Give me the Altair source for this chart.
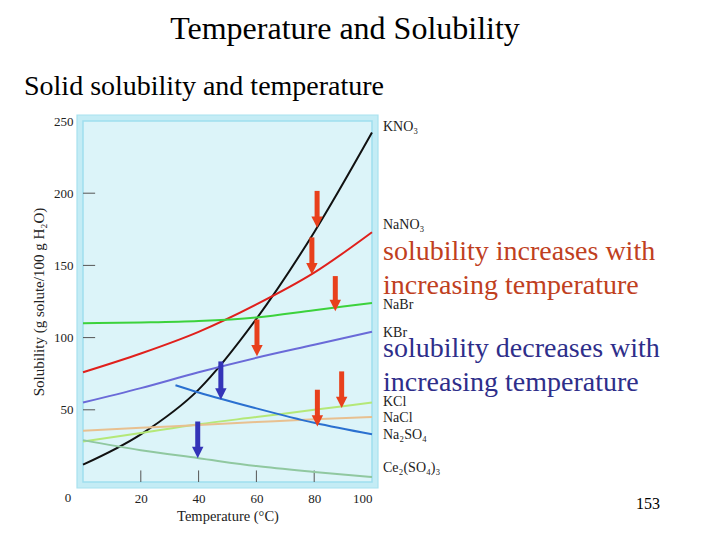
import altair as alt
import pandas as pd

# ---- data ----
temps = [0, 20, 40, 60, 80, 100]
kno3 = [12, 33, 64, 113, 173, 242]
nano3 = [76, 89, 104, 123, 145, 173]
nabr = [110, 110.5, 111.5, 114, 119, 124]
kbr = [55, 65, 76, 86, 95, 104]
kcl = [28, 34, 40, 45, 50, 55]
nacl = [35.5, 37.5, 39.5, 41.5, 43.5, 45]
ce2so43 = [29, 22, 16.5, 11, 7, 3.5]
na2so4_temps = [32, 40, 60, 80, 100]
na2so4 = [67, 62, 51, 41, 33]

names = ["KNO₃", "NaNO₃", "NaBr", "KBr", "KCl", "NaCl", "Na₂SO₄", "Ce₂(SO₄)₃"]
label_y = [246, 178, 122.5, 103, 55.5, 44.5, 32.5, 10]
colors = ["#111111", "#e0201c", "#3cd23c", "#6a6ad8", "#b4e878", "#e8c090", "#2a70d0", "#90c8a0"]

arrow_x = [81, 79.2, 87.3, 60.2, 89.5, 81.1, 47.7, 39.7]
arrow_top = [201.6, 169.4, 142.6, 112.5, 76.6, 63.9, 83.5, 41.9]
arrow_tip = [176, 143.7, 118.3, 87, 51.2, 38.4, 57, 16.5]
arrow_kind = ["up", "up", "up", "up", "up", "up", "down", "down"]

x_ticks = [20, 40, 60, 80]
y_ticks = [50, 100, 150, 200]

# ---- tables ----
series = {
    "KNO₃": (temps, kno3), "NaNO₃": (temps, nano3), "NaBr": (temps, nabr),
    "KBr": (temps, kbr), "KCl": (temps, kcl), "NaCl": (temps, nacl),
    "Na₂SO₄": (na2so4_temps, na2so4), "Ce₂(SO₄)₃": (temps, ce2so43),
}
rows = []
for name, (xs_, ys_) in series.items():
    for xv, yv in zip(xs_, ys_):
        rows.append({"name": name, "t": xv, "s": yv})
lines_df = pd.DataFrame(rows)
labels_df = pd.DataFrame({"name": names, "t": [100] * len(names), "s": label_y})
arrows_df = pd.DataFrame({"t": arrow_x, "top": arrow_top, "tip": arrow_tip, "kind": arrow_kind})
xt_df = pd.DataFrame({"t": x_ticks, "s0": [0] * len(x_ticks), "s1": [8] * len(x_ticks)})
yt_df = pd.DataFrame({"s": y_ticks, "t0": [0] * len(y_ticks), "t1": [4.2] * len(y_ticks)})

W, H = 289, 361
FONT = "Liberation Serif"

xs = alt.Scale(domain=[0, 100], nice=False, zero=False)
ys = alt.Scale(domain=[0, 250], nice=False, zero=False)
cscale = alt.Scale(domain=names, range=colors)

one = pd.DataFrame({"a": [0]})
frame_outer = alt.Chart(one).mark_rect(
    fill=None, stroke="#c4ecf5", strokeWidth=6
).encode(x=alt.value(-3), x2=alt.value(W + 3), y=alt.value(-3), y2=alt.value(H + 3))
frame_edge = alt.Chart(one).mark_rect(
    fill=None, stroke="#a8e2ef", strokeWidth=1.2
).encode(x=alt.value(-6), x2=alt.value(W + 6), y=alt.value(-6), y2=alt.value(H + 6))
frame_inner = alt.Chart(one).mark_rect(
    fill=None, stroke="#9fdeee", strokeWidth=1.5
).encode(x=alt.value(0), x2=alt.value(W), y=alt.value(0), y2=alt.value(H))

xticks = alt.Chart(xt_df).mark_rule(color="#555555", strokeWidth=1).encode(
    x=alt.X("t:Q", scale=xs), y=alt.Y("s0:Q", scale=ys), y2="s1:Q"
)
yticks = alt.Chart(yt_df).mark_rule(color="#555555", strokeWidth=1).encode(
    y=alt.Y("s:Q", scale=ys), x=alt.X("t0:Q", scale=xs), x2="t1:Q"
)

lines = alt.Chart(lines_df).mark_line(strokeWidth=2, interpolate="monotone", clip=False).encode(
    x=alt.X("t:Q", scale=xs,
            axis=alt.Axis(values=[20, 40, 60, 80, 100], title="Temperature (°C)", domain=False,
                          ticks=False, grid=False, labelPadding=10, titlePadding=4,
                          titleFontSize=14.5)),
    y=alt.Y("s:Q", scale=ys,
            axis=alt.Axis(values=[50, 100, 150, 200, 250], title="Solubility (g solute/100 g H₂O)",
                          domain=False, ticks=False, grid=False, labelPadding=10, titlePadding=7,
                          titleFontSize=15)),
    color=alt.Color("name:N", scale=cscale, legend=None),
    detail="name:N",
)

curve_labels = alt.Chart(labels_df).mark_text(
    align="left", baseline="middle", dx=11, font=FONT, fontSize=14, color="#222222"
).encode(x=alt.X("t:Q", scale=xs), y=alt.Y("s:Q", scale=ys), text="name:N")

zero_label = alt.Chart(pd.DataFrame({"t": [0], "s": [0], "lab": ["0"]})).mark_text(
    font=FONT, fontSize=13, color="#222222", dx=-15, dy=16
).encode(x=alt.X("t:Q", scale=xs), y=alt.Y("s:Q", scale=ys), text="lab:N")


def arrows(kind, color):
    base = alt.Chart(arrows_df).transform_filter(alt.datum.kind == kind)
    shaft = base.mark_rule(strokeWidth=5, strokeCap="butt", y2Offset=-6, color=color).encode(
        x=alt.X("t:Q", scale=xs), y=alt.Y("top:Q", scale=ys), y2="tip:Q"
    )
    head = base.mark_point(
        shape="M-1,-1L1,-1L0,1Z", size=130, filled=True, opacity=1, yOffset=-5.7,
        color=color, strokeWidth=0
    ).encode(x=alt.X("t:Q", scale=xs), y=alt.Y("tip:Q", scale=ys))
    return [shaft, head]


def slide_text(txt, x, y, size, color="#000000", align="left"):
    return alt.Chart(pd.DataFrame({"txt": [txt]})).mark_text(
        font=FONT, fontSize=size, color=color, align=align, baseline="middle"
    ).encode(x=alt.value(x), y=alt.value(y), text="txt:N")


texts = [
    slide_text("Temperature and Solubility", 262, -92, 32, align="center"),
    slide_text("Solid solubility and temperature", -59, -34, 28),
    slide_text("solubility increases with", 300, 131, 28, color="#c0401e"),
    slide_text("increasing temperature", 300, 165, 28, color="#c0401e"),
    slide_text("solubility decreases with", 300, 228, 28, color="#2e2e8a"),
    slide_text("increasing temperature", 300, 262, 28, color="#2e2e8a"),
    slide_text("153", 565, 383, 16, align="center"),
]

chart = alt.layer(
    frame_outer, frame_edge, frame_inner, xticks, yticks, lines,
    *arrows("up", "#e8401c"), *arrows("down", "#3434b8"),
    curve_labels, zero_label, *texts
).properties(
    width=W, height=H,
    autosize=alt.AutoSizeParams(type="none"),
    padding={"left": 83, "top": 121, "right": 720 - 83 - W, "bottom": 540 - 121 - H},
    background="#ffffff",
).configure_view(
    fill="#dcf4f9", stroke=None
).configure_axis(
    labelFont=FONT, titleFont=FONT, labelFontSize=13, titleFontSize=13,
    labelColor="#222222", titleColor="#222222", titleFontWeight="normal"
)

chart.save("out.html", embed_options={"renderer": "svg", "actions": False})
